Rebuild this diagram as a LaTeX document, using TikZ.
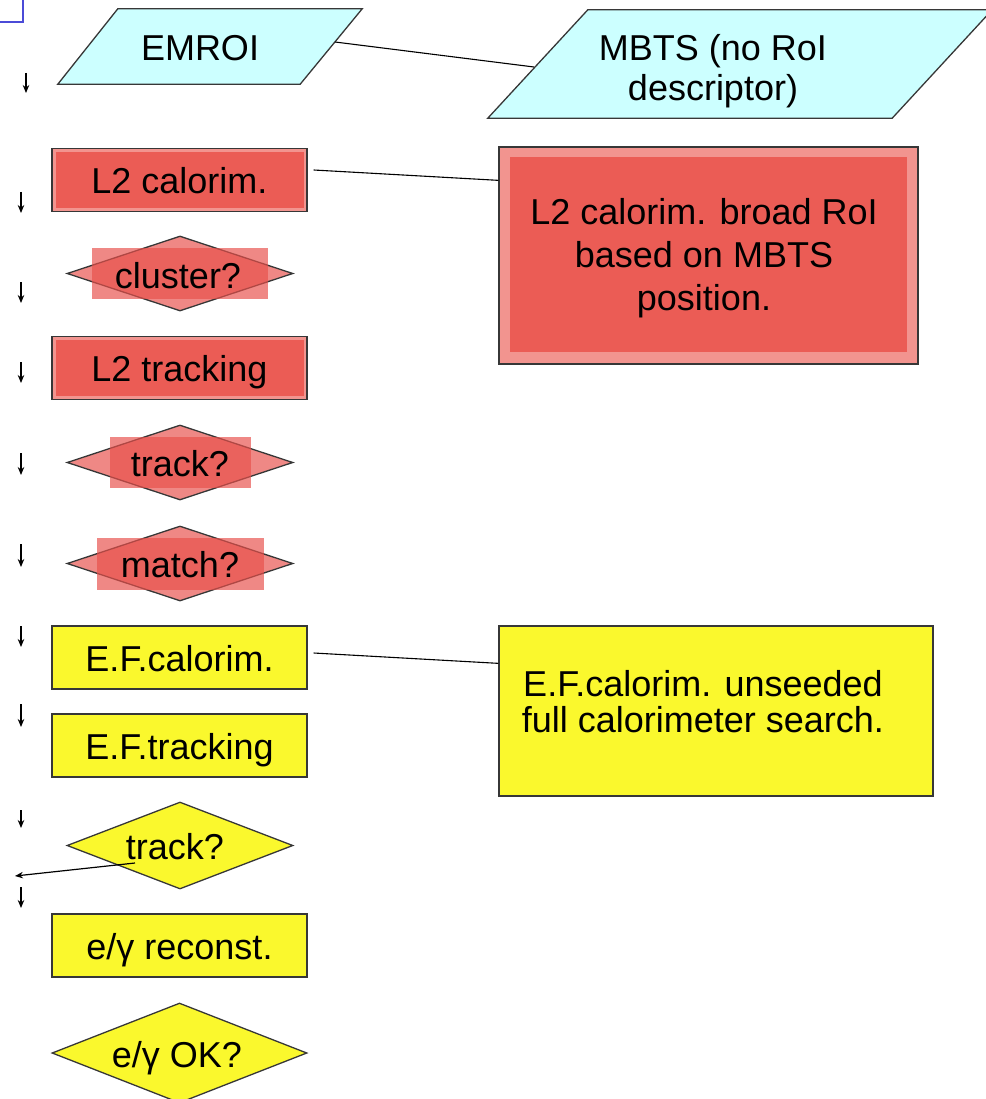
\documentclass[tikz,border=0pt]{standalone}
\usepackage{fontspec}
\setmainfont{Liberation Sans}
\usetikzlibrary{shapes.geometric,arrows.meta}
\definecolor{cyanfill}{RGB}{204,255,255}
\definecolor{redfill}{RGB}{235,92,85}
\definecolor{pinkedge}{RGB}{242,148,143}
\definecolor{diafill}{RGB}{232,80,75}
\definecolor{yellowfill}{RGB}{250,248,45}
\definecolor{edgegray}{RGB}{55,55,55}
\definecolor{cornerblue}{RGB}{75,75,215}
\begin{document}
\begin{tikzpicture}[x=1pt,y=-1pt,
  font=\fontsize{36}{43}\selectfont,
  box/.style={draw=edgegray, line width=1.3pt, minimum width=255, minimum height=63, inner sep=0pt, text height=27pt, text depth=0pt},
  redbox/.style={box, fill=pinkedge, path picture={\fill[redfill] ([shift={(3.5,3.5)}]path picture bounding box.north west) rectangle ([shift={(-3.5,-3.5)}]path picture bounding box.south east);}},
  redbig/.style={draw=edgegray, line width=1.3pt, inner sep=0pt, fill=pinkedge, path picture={\fill[redfill] ([shift={(11,10)}]path picture bounding box.north west) rectangle ([shift={(-11,-12)}]path picture bounding box.south east);}},
  yellowbox/.style={box, fill=yellowfill},
  para/.style={draw=edgegray, fill=cyanfill, line width=1.3pt, line join=miter},
  holder/.style={rectangle, inner sep=0pt, draw=none},
  reddia/.style={diamond, draw=edgegray, line width=1.3pt, inner sep=0pt, fill=diafill, fill opacity=0.68},
  overlaybox/.style={rectangle, fill=diafill, fill opacity=0.68, inner sep=0pt, draw=none},
  yellowdia/.style={diamond, draw=edgegray, line width=1.3pt, inner sep=0pt, fill=yellowfill},
  lbl/.style={inner sep=0pt, text height=27pt, text depth=0pt},
  conn/.style={line width=1.1pt, black},
  downarrow/.style={line width=1.2pt, black, -{Stealth[length=8pt, width=6.5pt]}}
]
\useasboundingbox (0,0) rectangle (985,1099);

% blue corner fragment
\draw[cornerblue, line width=2pt] (-2,22) -- (23,22) -- (23,-2);

% inputs (parallelograms)
\node[holder, minimum width=304, minimum height=75] (emroi) at (210,46.5) {};
\path[para] (emroi.south west) -- ([shift={(60,0)}]emroi.north west) -- (emroi.north east) -- ([shift={(-62,0)}]emroi.south east) -- cycle;
\node[lbl] (emroiT) at (200,47) {EMROI};
\node[holder, minimum width=504, minimum height=108] (mbts) at (740,64) {};
\path[para] (mbts.south west) -- ([shift={(100,0)}]mbts.north west) -- (mbts.north east) -- ([shift={(-100,0)}]mbts.south east) -- cycle;
\node[inner sep=0pt, align=center, font=\fontsize{36}{40}\selectfont] (mbtsT) at (713,71) {MBTS (no RoI\\descriptor)};
\coordinate (emroiR) at (335,42);
\coordinate (mbtsL) at (534,67);

% left column
\node[redbox] (l2cal) at (179.5,180) {L2 calorim.};
\node[reddia, minimum width=226, minimum height=75] (cluster) at (180,273.5) {};
\node[overlaybox, minimum width=176, minimum height=51] (clusterbg) at (180,273.5) {};
\node[lbl] (clusterT) at (178,275) {cluster?};
\node[redbox] (l2trk) at (179.5,368) {L2 tracking};
\node[reddia, minimum width=226, minimum height=75] (trkq) at (180,462.5) {};
\node[overlaybox, minimum width=141, minimum height=51] (trkqbg) at (180.5,462.5) {};
\node[lbl] (trkqT) at (180,463) {track?};
\node[reddia, minimum width=226, minimum height=75] (match) at (180,563.5) {};
\node[overlaybox, minimum width=167, minimum height=52] (matchbg) at (180.5,564) {};
\node[lbl] (matchT) at (180,564) {match?};
\node[yellowbox] (efcal) at (179.5,657.5) {E.F.calorim.};
\node[yellowbox] (eftrk) at (179.5,745.5) {E.F.tracking};
\node[yellowdia, minimum width=226, minimum height=87] (eftrkq) at (180,845.5) {};
\node[lbl] (eftrkqT) at (175,846) {track?};
\node[yellowbox] (egrec) at (179.5,945.5) {e/γ reconst.};
\node[yellowdia, minimum width=255, minimum height=100] (egok) at (179.5,1053) {};
\node[lbl] (egokT) at (177,1054) {e/γ OK?};

% right notes
\node[redbig, minimum width=419, minimum height=217] (l2broad) at (708.5,255.5) {};
\node[inner sep=0pt, align=center, font=\fontsize{36}{43}\selectfont] (l2broadT) at (704,258) {L2 calorim. broad RoI\\based on MBTS\\position.};
\node[draw=edgegray, line width=1.3pt, fill=yellowfill, inner sep=0pt, minimum width=434, minimum height=170] (efnote) at (716,711) {};
\node[inner sep=0pt, align=center, font=\fontsize{36}{36}\selectfont] (efnoteT) at (703,702) {E.F.calorim. unseeded\\full calorimeter search.};

% connectors
\draw[conn] (emroiR) -- (mbtsL);
\draw[conn] ([shift={(6,-10)}]l2cal.east) -- ([shift={(0,34)}]l2broad.north west);
\draw[conn] ([shift={(6,-4.5)}]efcal.east) -- ([shift={(0,38)}]efnote.north west);

% small down arrows
\coordinate (a1s) at (26,73);  \coordinate (a1e) at (26,93);
\coordinate (a2s) at (21,192); \coordinate (a2e) at (21,213);
\coordinate (a3s) at (21,282); \coordinate (a3e) at (21,303);
\coordinate (a4s) at (21,362); \coordinate (a4e) at (21,383);
\coordinate (a5s) at (21,453); \coordinate (a5e) at (21,475);
\coordinate (a6s) at (21,544); \coordinate (a6e) at (21,567);
\coordinate (a7s) at (21,626); \coordinate (a7e) at (21,647);
\coordinate (a8s) at (21,704); \coordinate (a8e) at (21,727);
\coordinate (a9s) at (21,810); \coordinate (a9e) at (21,828);
\coordinate (a10s) at (21,887); \coordinate (a10e) at (21,908);
\foreach \i in {1,...,10} {\draw[downarrow] (a\i s) -- (a\i e);}

% left arrow from track? decision
\coordinate (backs) at (135,863);
\coordinate (backe) at (15,876);
\draw[downarrow] (backs) -- (backe);
\end{tikzpicture}
\end{document}
